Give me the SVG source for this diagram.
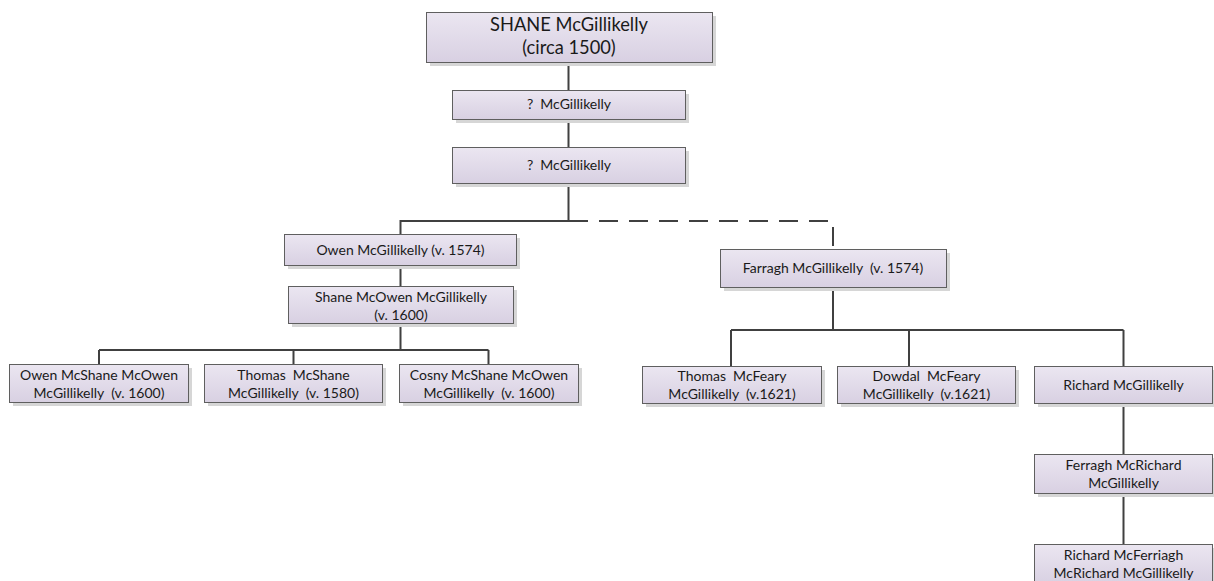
<svg xmlns="http://www.w3.org/2000/svg" width="1214" height="581" viewBox="0 0 1214 581">
  <defs>
    <linearGradient id="boxFill" x1="0" y1="0" x2="0" y2="1">
      <stop offset="0" stop-color="#ebe6f1"/>
      <stop offset="1" stop-color="#d8d0e2"/>
    </linearGradient>
    <style>
      .shadow { fill: #d6d6d6; }
      .box { fill: url(#boxFill); stroke: #5f5f5f; stroke-width: 1; }
      .lbl { font-family: Lato, "Liberation Sans", sans-serif; font-size: 14px; fill: #1a1a1a; text-anchor: middle; white-space: pre; }
      .big { font-size: 18.3px; }
      .wire { fill: none; stroke: #404040; stroke-width: 2; }
      .dash { stroke-dasharray: 19 11; }
    </style>
  </defs>
  <rect width="1214" height="581" fill="#ffffff"/>

  <!-- connectors -->
  <g id="connectors">
    <path class="wire" d="M568.5 62 V90 M568.5 119 V147 M568.5 183 V221 H400.5 V234 M400.5 265 V286 M400.5 323 V350 M99 350 H488.5 M99 350 V364 M293.5 350 V364 M488.5 350 V364"/>
    <path class="wire dash" d="M569 221 H833 V249"/>
    <path class="wire" d="M833 287 V330 M731 330 H1123.5 M731 330 V366 M909 330 V366 M1123.5 330 V366 M1123.5 403 V454 M1123.5 493 V544"/>
  </g>

  <g id="n-shane">
    <rect class="shadow" x="430" y="16" width="286" height="50"/>
    <rect class="box" x="426.5" y="12.5" width="286" height="50"/>
    <text class="lbl big" x="569" y="30.5">SHANE McGillikelly</text>
    <text class="lbl big" x="569" y="53.5">(circa 1500)</text>
  </g>

  <g id="n-unknown1">
    <rect class="shadow" x="456" y="94" width="233" height="29"/>
    <rect class="box" x="452.5" y="90.5" width="233" height="29"/>
    <text class="lbl" x="569" y="109">?  McGillikelly</text>
  </g>

  <g id="n-unknown2">
    <rect class="shadow" x="456" y="151" width="233" height="36"/>
    <rect class="box" x="452.5" y="147.5" width="233" height="36"/>
    <text class="lbl" x="569" y="170">?  McGillikelly</text>
  </g>

  <g id="n-owen">
    <rect class="shadow" x="288" y="238" width="232" height="31"/>
    <rect class="box" x="284.5" y="234.5" width="232" height="31"/>
    <text class="lbl" x="400.5" y="255">Owen McGillikelly (v. 1574)</text>
  </g>

  <g id="n-shane-mcowen">
    <rect class="shadow" x="292" y="290" width="225" height="37"/>
    <rect class="box" x="288.5" y="286.5" width="225" height="37"/>
    <text class="lbl" x="401" y="302">Shane McOwen McGillikelly</text>
    <text class="lbl" x="401" y="319.5">(v. 1600)</text>
  </g>

  <g id="n-owen-mcshane">
    <rect class="shadow" x="13" y="368" width="179" height="38"/>
    <rect class="box" x="9.5" y="364.5" width="179" height="38"/>
    <text class="lbl" x="99" y="380">Owen McShane McOwen</text>
    <text class="lbl" x="99" y="398">McGillikelly  (v. 1600)</text>
  </g>

  <g id="n-thomas-mcshane">
    <rect class="shadow" x="208" y="368" width="178" height="38"/>
    <rect class="box" x="204.5" y="364.5" width="178" height="38"/>
    <text class="lbl" x="293.5" y="380">Thomas  McShane</text>
    <text class="lbl" x="293.5" y="398">McGillikelly  (v. 1580)</text>
  </g>

  <g id="n-cosny">
    <rect class="shadow" x="403" y="368" width="179" height="38"/>
    <rect class="box" x="399.5" y="364.5" width="179" height="38"/>
    <text class="lbl" x="489" y="380">Cosny McShane McOwen</text>
    <text class="lbl" x="489" y="398">McGillikelly  (v. 1600)</text>
  </g>

  <g id="n-farragh">
    <rect class="shadow" x="724" y="253" width="226" height="38"/>
    <rect class="box" x="720.5" y="249.5" width="226" height="38"/>
    <text class="lbl" x="833" y="273">Farragh McGillikelly  (v. 1574)</text>
  </g>

  <g id="n-thomas-mcfeary">
    <rect class="shadow" x="646" y="370" width="179" height="37"/>
    <rect class="box" x="642.5" y="366.5" width="179" height="37"/>
    <text class="lbl" x="732" y="380.5">Thomas  McFeary</text>
    <text class="lbl" x="732" y="398.5">McGillikelly  (v.1621)</text>
  </g>

  <g id="n-dowdal">
    <rect class="shadow" x="841" y="370" width="178" height="37"/>
    <rect class="box" x="837.5" y="366.5" width="178" height="37"/>
    <text class="lbl" x="926.5" y="380.5">Dowdal  McFeary</text>
    <text class="lbl" x="926.5" y="398.5">McGillikelly  (v.1621)</text>
  </g>

  <g id="n-richard">
    <rect class="shadow" x="1038" y="370" width="179" height="37"/>
    <rect class="box" x="1034.5" y="366.5" width="178" height="37"/>
    <text class="lbl" x="1123.5" y="390">Richard McGillikelly</text>
  </g>

  <g id="n-ferragh-mcrichard">
    <rect class="shadow" x="1038" y="458" width="179" height="39"/>
    <rect class="box" x="1034.5" y="454.5" width="178" height="39"/>
    <text class="lbl" x="1123.5" y="469.5">Ferragh McRichard</text>
    <text class="lbl" x="1123.5" y="487.5">McGillikelly</text>
  </g>

  <g id="n-richard-mcferriagh">
    <rect class="shadow" x="1038" y="548" width="179" height="40"/>
    <rect class="box" x="1034.5" y="544.5" width="178" height="40"/>
    <text class="lbl" x="1123.5" y="560">Richard McFerriagh</text>
    <text class="lbl" x="1123.5" y="578">McRichard McGillikelly</text>
  </g>
</svg>
